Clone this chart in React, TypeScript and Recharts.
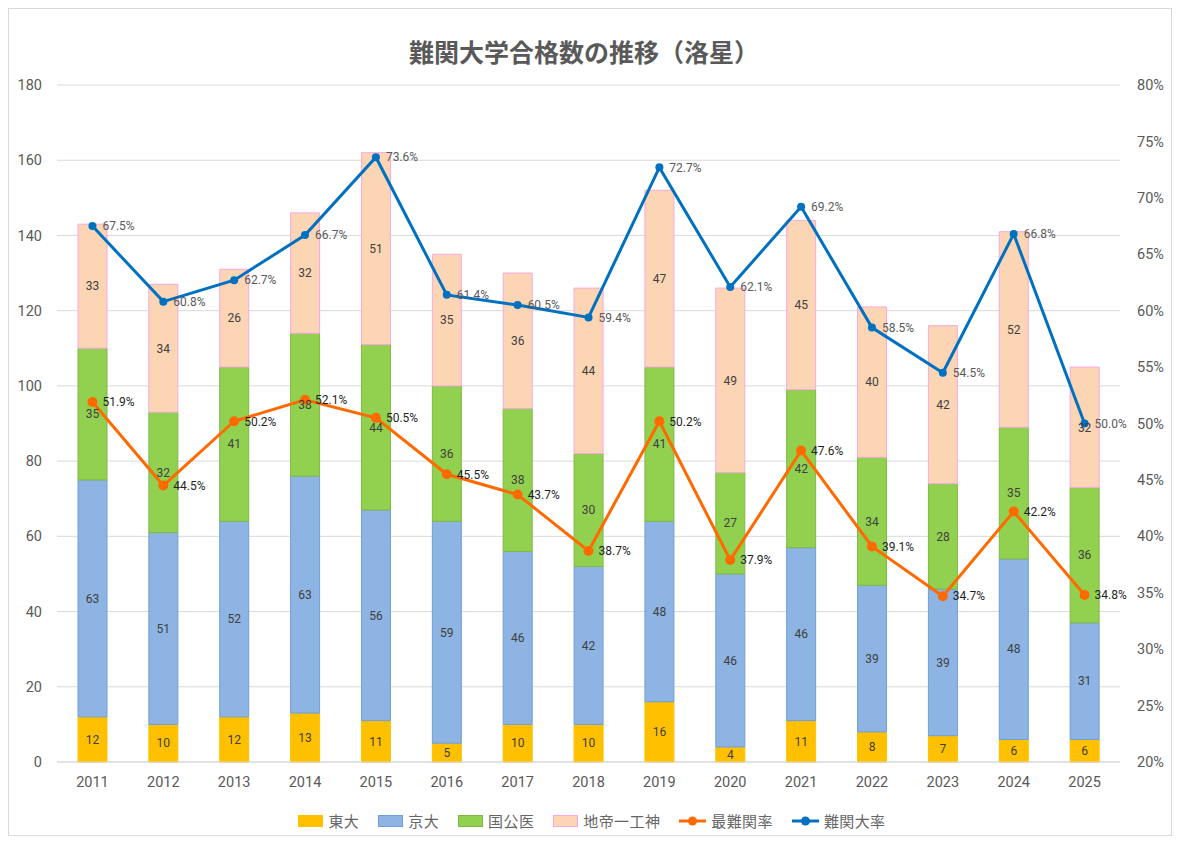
import React from 'react';
import { ComposedChart, Bar, Line, XAxis, YAxis, CartesianGrid, LabelList } from 'recharts';

const years = ['2011', '2012', '2013', '2014', '2015', '2016', '2017', '2018', '2019', '2020', '2021', '2022', '2023', '2024', '2025'];
const todai = [12, 10, 12, 13, 11, 5, 10, 10, 16, 4, 11, 8, 7, 6, 6];
const kyodai = [63, 51, 52, 63, 56, 59, 46, 42, 48, 46, 46, 39, 39, 48, 31];
const kokkoui = [35, 32, 41, 38, 44, 36, 38, 30, 41, 27, 42, 34, 28, 35, 36];
const chitei = [33, 34, 26, 32, 51, 35, 36, 44, 47, 49, 45, 40, 42, 52, 32];
const saiNankanRate = [51.9, 44.5, 50.2, 52.1, 50.5, 45.5, 43.7, 38.7, 50.2, 37.9, 47.6, 39.1, 34.7, 42.2, 34.8];
const nankanRate = [67.5, 60.8, 62.7, 66.7, 73.6, 61.4, 60.5, 59.4, 72.7, 62.1, 69.2, 58.5, 54.5, 66.8, 50.0];
const leftTicks = [0, 20, 40, 60, 80, 100, 120, 140, 160, 180];
const rightTicks = [20, 25, 30, 35, 40, 45, 50, 55, 60, 65, 70, 75, 80];

const data = years.map((y, i) => ({
  year: y,
  todai: todai[i],
  kyodai: kyodai[i],
  kokkoui: kokkoui[i],
  chitei: chitei[i],
  sai: saiNankanRate[i],
  nankan: nankanRate[i],
}));

const NUM_FONT = 'Roboto, "Noto Sans", sans-serif';
const JP_FONT = '"Noto Sans CJK JP", "Noto Sans", sans-serif';
const AXIS_COLOR = '#595959';
const GRID = '#d9d9d9';

const C_TODAI = '#FFC000';
const C_KYODAI = '#8DB4E2';
const C_KOKKOUI = '#92D050';
const C_CHITEI = '#FCD5B5';
const C_SAI = '#FF6A00';
const C_NANKAN = '#0070C0';

const legendItems = [
  { name: '東大', type: 'bar', fill: C_TODAI, stroke: C_TODAI },
  { name: '京大', type: 'bar', fill: C_KYODAI, stroke: '#6E9FD9' },
  { name: '国公医', type: 'bar', fill: C_KOKKOUI, stroke: '#7FB944' },
  { name: '地帝一工神', type: 'bar', fill: C_CHITEI, stroke: '#F7A8E0' },
  { name: '最難関率', type: 'line', fill: C_SAI, stroke: C_SAI },
  { name: '難関大率', type: 'line', fill: C_NANKAN, stroke: C_NANKAN },
];

const pct = (v: any) => `${Number(v).toFixed(1)}%`;

export default function App() {
  return (
    <div
      style={{
        position: 'relative',
        width: 1164,
        height: 828,
        border: '1px solid #d9d9d9',
        boxSizing: 'border-box',
        background: '#fff',
      }}
    >
      <div
        style={{
          position: 'absolute',
          top: 26,
          left: 0,
          width: 1150,
          textAlign: 'center',
          fontFamily: JP_FONT,
          fontWeight: 700,
          fontSize: 25,
          lineHeight: '32px',
          color: AXIS_COLOR,
        }}
      >
        難関大学合格数の推移（洛星）
      </div>
      <ComposedChart
        width={1162}
        height={826}
        data={data}
        margin={{ top: 76, right: 0, bottom: 43, left: 0 }}
        barCategoryGap="0%"
      >
        <CartesianGrid vertical={false} stroke={GRID} yAxisId="left" />
        <XAxis
          dataKey="year"
          height={30}
          tickLine={false}
          tickSize={6}
          tickMargin={9}
          axisLine={{ stroke: GRID }}
          tick={{ fill: AXIS_COLOR, fontSize: 14.5, fontFamily: NUM_FONT }}
        />
        <YAxis
          yAxisId="left"
          orientation="left"
          width={48}
          domain={[0, 180]}
          ticks={leftTicks}
          interval={0}
          axisLine={false}
          tickLine={false}
          tickSize={6}
          tickMargin={9}
          tick={{ fill: AXIS_COLOR, fontSize: 14.5, fontFamily: NUM_FONT }}
        />
        <YAxis
          yAxisId="right"
          orientation="right"
          width={51}
          domain={[20, 80]}
          ticks={rightTicks}
          interval={0}
          axisLine={false}
          tickLine={false}
          tickSize={6}
          tickMargin={11}
          tickFormatter={(v: number) => `${v}%`}
          tick={{ fill: AXIS_COLOR, fontSize: 14.5, fontFamily: NUM_FONT, textAnchor: 'start' }}
        />
        <Bar dataKey="todai" name="東大" stackId="a" yAxisId="left" barSize={29} fill={C_TODAI} stroke={C_TODAI} strokeWidth={1} isAnimationActive={false}>
          <LabelList dataKey="todai" position="center" fill="#404040" fontSize={12} fontFamily={NUM_FONT} />
        </Bar>
        <Bar dataKey="kyodai" name="京大" stackId="a" yAxisId="left" barSize={29} fill={C_KYODAI} stroke="#6E9FD9" strokeWidth={1} isAnimationActive={false}>
          <LabelList dataKey="kyodai" position="center" fill="#404040" fontSize={12} fontFamily={NUM_FONT} />
        </Bar>
        <Bar dataKey="kokkoui" name="国公医" stackId="a" yAxisId="left" barSize={29} fill={C_KOKKOUI} stroke="#7FB944" strokeWidth={1} isAnimationActive={false}>
          <LabelList dataKey="kokkoui" position="center" fill="#404040" fontSize={12} fontFamily={NUM_FONT} />
        </Bar>
        <Bar dataKey="chitei" name="地帝一工神" stackId="a" yAxisId="left" barSize={29} fill={C_CHITEI} stroke="#F7A8E0" strokeWidth={1} isAnimationActive={false}>
          <LabelList dataKey="chitei" position="center" fill="#404040" fontSize={12} fontFamily={NUM_FONT} />
        </Bar>
        <Line
          dataKey="sai"
          name="最難関率"
          yAxisId="right"
          type="linear"
          stroke={C_SAI}
          strokeWidth={3}
          dot={{ r: 5, fill: C_SAI, stroke: C_SAI, strokeWidth: 0 }}
          activeDot={false}
          isAnimationActive={false}
        >
          <LabelList dataKey="sai" position="right" offset={10} formatter={pct} fill="#1f1f1f" fontSize={12} fontFamily={NUM_FONT} />
        </Line>
        <Line
          dataKey="nankan"
          name="難関大率"
          yAxisId="right"
          type="linear"
          stroke={C_NANKAN}
          strokeWidth={3}
          dot={{ r: 4, fill: C_NANKAN, stroke: C_NANKAN, strokeWidth: 0 }}
          activeDot={false}
          isAnimationActive={false}
        >
          <LabelList dataKey="nankan" position="right" offset={10} formatter={pct} fill="#595959" fontSize={12} fontFamily={NUM_FONT} />
        </Line>
      </ComposedChart>
      <div
        style={{
          position: 'absolute',
          top: 802,
          left: 2,
          width: 1162,
          display: 'flex',
          justifyContent: 'center',
          alignItems: 'center',
          fontFamily: JP_FONT,
          fontSize: 15,
          color: '#666666',
          lineHeight: '20px',
        }}
      >
        {legendItems.map((it, i) => (
          <div key={it.name} style={{ display: 'flex', alignItems: 'center', marginRight: i === legendItems.length - 1 ? 0 : 19 }}>
            {it.type === 'bar' ? (
              <svg width={25} height={12} style={{ marginRight: 5 }}>
                <rect x={0.5} y={0.5} width={24} height={11} fill={it.fill} stroke={it.stroke} strokeWidth={1} />
              </svg>
            ) : (
              <svg width={27} height={12} style={{ marginRight: 5 }}>
                <line x1={0} y1={6} x2={27} y2={6} stroke={it.stroke} strokeWidth={3} />
                <circle cx={13.5} cy={6} r={4.5} fill={it.fill} />
              </svg>
            )}
            <span style={{ letterSpacing: 0.4 }}>{it.name}</span>
          </div>
        ))}
      </div>
    </div>
  );
}
